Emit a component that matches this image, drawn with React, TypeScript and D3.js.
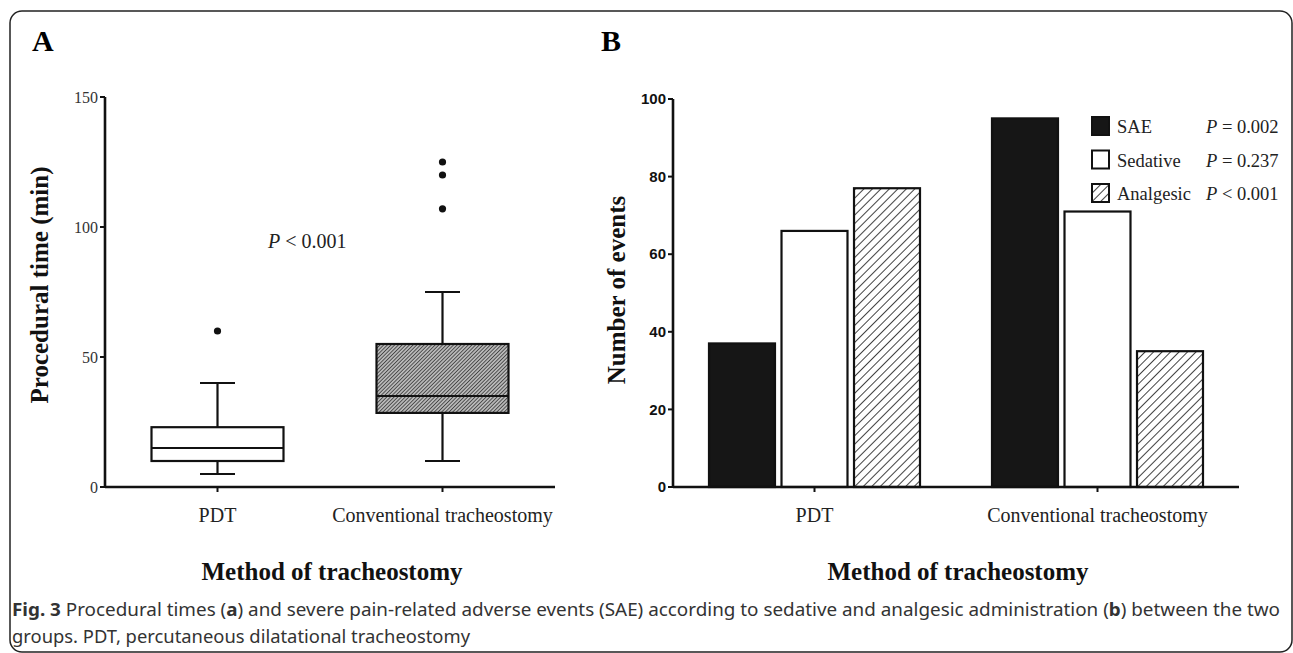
import React from "react";
import * as d3 from "d3";

// Panel A: procedural time box plots
const groups = ["PDT", "Conventional tracheostomy"];
const boxStats = [
  { q1: 10, median: 15, q3: 23, low: 5, high: 40, outliers: [60] },
  { q1: 28.5, median: 35, q3: 55, low: 10, high: 75, outliers: [107, 120, 125] },
];
const boxFill = ["white", "url(#denseHatch)"];
const timeTicks = [0, 50, 100, 150];

// Panel B: number of events
const series = ["SAE", "Sedative", "Analgesic"];
const pdtEvents = [37, 66, 77];
const convEvents = [95, 71, 35];
const pValues = ["= 0.002", "= 0.237", "< 0.001"];
const seriesFill = ["#161616", "white", "url(#barHatch)"];
const eventTicks = [0, 20, 40, 60, 80, 100];

const serif = "'Liberation Serif', 'Times New Roman', serif";
const sans = "'Liberation Sans', Arial, sans-serif";
const captionFont = "'Noto Sans', 'Open Sans', sans-serif";

export default function App() {
  const W = 1293;
  const H = 653;

  // panel A scales
  const yA = d3.scaleLinear().domain([0, 150]).range([487, 97]);
  const xA = d3.scalePoint().domain(groups).range([105, 555]).padding(0.5);
  const boxW = 132;
  const capW = 35;

  // panel B scales
  const yB = d3.scaleLinear().domain([0, 100]).range([487, 99]);
  const xB = d3.scalePoint().domain(groups).range([673, 1239]).padding(0.5);
  const inner = d3.scaleBand().domain(series).range([-105.5, 105.5]).paddingInner(0.09);
  const eventsByGroup = [pdtEvents, convEvents];

  return (
    <svg
      width={W}
      height={H}
      style={{ position: "absolute", left: 0, top: 0, background: "white" }}
    >
      <defs>
        <pattern id="denseHatch" width="2.6" height="2.6" patternUnits="userSpaceOnUse" patternTransform="rotate(45)">
          <rect width="2.6" height="2.6" fill="#b8b8b8" />
          <line x1="0" y1="0" x2="0" y2="2.6" stroke="#111" strokeWidth="1.2" />
        </pattern>
        <pattern id="barHatch" width="6" height="6" patternUnits="userSpaceOnUse" patternTransform="rotate(45)">
          <rect width="6" height="6" fill="white" />
          <line x1="0" y1="0" x2="0" y2="6" stroke="#111" strokeWidth="1.6" />
        </pattern>
      </defs>

      <rect x={10} y={11} width={1282} height={641} rx={12} fill="none" stroke="#222" strokeWidth={1.5} />

      {/* ---------- Panel A ---------- */}
      <text x={32} y={51} fontFamily={serif} fontWeight="bold" fontSize={30}>A</text>

      <g>
        {timeTicks.map((t) => (
          <g key={t}>
            <line x1={100} x2={105} y1={yA(t)} y2={yA(t)} stroke="#111" strokeWidth={2} />
            <text x={98} y={yA(t)} dy="0.35em" textAnchor="end" fontFamily={serif} fontSize={16} fill="#333">
              {t}
            </text>
          </g>
        ))}
        <line x1={105} x2={105} y1={yA(150)} y2={yA(0)} stroke="#111" strokeWidth={2.6} />
        <line x1={105} x2={555} y1={yA(0)} y2={yA(0)} stroke="#111" strokeWidth={2.6} />
        {groups.map((g) => (
          <g key={g}>
            <line x1={xA(g)} x2={xA(g)} y1={yA(0)} y2={yA(0) + 5} stroke="#111" strokeWidth={2} />
            <text x={xA(g)} y={522} textAnchor="middle" fontFamily={serif} fontSize={20} fill="#222">
              {g}
            </text>
          </g>
        ))}
      </g>

      {boxStats.map((s, i) => {
        const cx = xA(groups[i]) as number;
        return (
          <g key={i} stroke="#111" strokeWidth={2.2}>
            <line x1={cx} x2={cx} y1={yA(s.q3)} y2={yA(s.high)} />
            <line x1={cx} x2={cx} y1={yA(s.q1)} y2={yA(s.low)} />
            <line x1={cx - capW / 2} x2={cx + capW / 2} y1={yA(s.high)} y2={yA(s.high)} />
            <line x1={cx - capW / 2} x2={cx + capW / 2} y1={yA(s.low)} y2={yA(s.low)} />
            <rect x={cx - boxW / 2} y={yA(s.q3)} width={boxW} height={yA(s.q1) - yA(s.q3)} fill={boxFill[i]} />
            <line x1={cx - boxW / 2} x2={cx + boxW / 2} y1={yA(s.median)} y2={yA(s.median)} />
            {s.outliers.map((o) => (
              <circle key={o} cx={cx} cy={yA(o)} r={3.6} fill="#111" stroke="none" />
            ))}
          </g>
        );
      })}

      <text x={268} y={248} fontFamily={serif} fontSize={20} fill="#222">
        <tspan fontStyle="italic">P</tspan> &lt; 0.001
      </text>

      <text
        transform="translate(48,285) rotate(-90)"
        textAnchor="middle"
        fontFamily={serif}
        fontWeight="bold"
        fontSize={25}
        fill="#111"
      >
        Procedural time (min)
      </text>
      <text x={332} y={580} textAnchor="middle" fontFamily={serif} fontWeight="bold" fontSize={25} fill="#111">
        Method of tracheostomy
      </text>

      {/* ---------- Panel B ---------- */}
      <text x={601} y={51} fontFamily={serif} fontWeight="bold" fontSize={30}>B</text>

      <g>
        {eventTicks.map((t) => (
          <g key={t}>
            <line x1={668} x2={673} y1={yB(t)} y2={yB(t)} stroke="#111" strokeWidth={2} />
            <text x={666} y={yB(t)} dy="0.35em" textAnchor="end" fontFamily={sans} fontWeight="bold" fontSize={15} fill="#111">
              {t}
            </text>
          </g>
        ))}
      </g>

      {groups.map((g, gi) => (
        <g key={g} transform={`translate(${xB(g)},0)`}>
          {series.map((s, si) => {
            const v = eventsByGroup[gi][si];
            return (
              <rect
                key={s}
                x={inner(s)}
                y={yB(v)}
                width={inner.bandwidth()}
                height={yB(0) - yB(v)}
                fill={seriesFill[si]}
                stroke="#111"
                strokeWidth={2.2}
              />
            );
          })}
        </g>
      ))}

      <line x1={673} x2={673} y1={yB(100)} y2={yB(0)} stroke="#111" strokeWidth={2.6} />
      <line x1={673} x2={1239} y1={yB(0)} y2={yB(0)} stroke="#111" strokeWidth={2.6} />
      {groups.map((g) => (
        <g key={g}>
          <line x1={xB(g)} x2={xB(g)} y1={yB(0)} y2={yB(0) + 5} stroke="#111" strokeWidth={2} />
          <text x={xB(g)} y={522} textAnchor="middle" fontFamily={serif} fontSize={20} fill="#222">
            {g}
          </text>
        </g>
      ))}

      {series.map((s, i) => (
        <g key={s} transform={`translate(1092,${117 + i * 33.5})`}>
          <rect x={0} y={0} width={17} height={18} fill={seriesFill[i]} stroke="#111" strokeWidth={2} />
          <text x={25} y={16} fontFamily={serif} fontSize={18.5} fill="#222">{s}</text>
          <text x={114} y={16} fontFamily={serif} fontSize={18.5} fill="#222">
            <tspan fontStyle="italic">P</tspan> {pValues[i]}
          </text>
        </g>
      ))}

      <text
        transform="translate(625,290) rotate(-90)"
        textAnchor="middle"
        fontFamily={serif}
        fontWeight="bold"
        fontSize={25}
        fill="#111"
      >
        Number of events
      </text>
      <text x={958} y={580} textAnchor="middle" fontFamily={serif} fontWeight="bold" fontSize={25} fill="#111">
        Method of tracheostomy
      </text>

      {/* ---------- Caption ---------- */}
      <text x={12} y={616} fontFamily={captionFont} fontSize={17.5} fill="#333" textLength={1268} lengthAdjust="spacingAndGlyphs">
        <tspan fontWeight="bold">Fig. 3</tspan> Procedural times (<tspan fontWeight="bold">a</tspan>) and severe pain-related
        adverse events (SAE) according to sedative and analgesic administration (<tspan fontWeight="bold">b</tspan>) between the two
      </text>
      <text x={12} y={643} fontFamily={captionFont} fontSize={17.5} fill="#333" textLength={458} lengthAdjust="spacingAndGlyphs">
        groups. PDT, percutaneous dilatational tracheostomy
      </text>
    </svg>
  );
}
